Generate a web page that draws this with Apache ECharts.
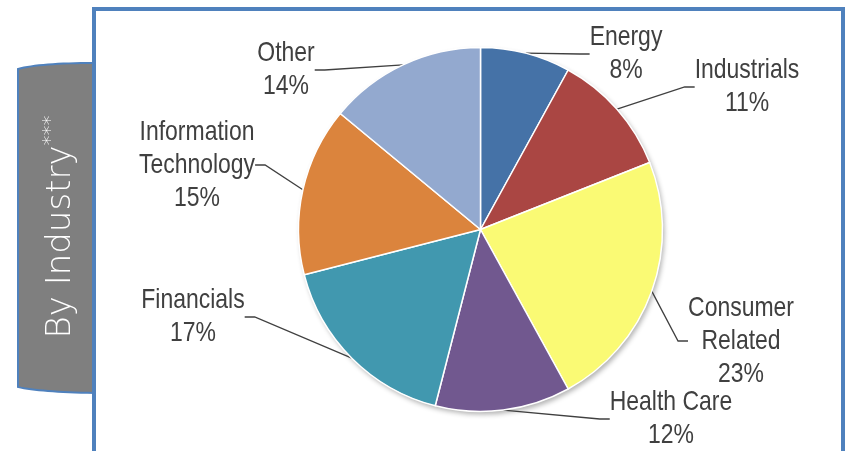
<!DOCTYPE html>
<html>
<head>
<meta charset="utf-8">
<script src="https://cdn.jsdelivr.net/npm/echarts@6/dist/echarts.min.js"></script>
<style>
html,body{margin:0;padding:0;background:#fff;}
#chart{width:846px;height:451px;}
</style>
</head>
<body>
<div id="chart"></div>
<script>
// ---- data ----
const categories = ['Energy', 'Industrials', 'Consumer Related', 'Health Care', 'Financials', 'Information Technology', 'Other'];
const labelNames = ['Energy', 'Industrials', 'Consumer\nRelated', 'Health Care', 'Financials', 'Information\nTechnology', 'Other'];
const values = [8, 11, 23, 12, 17, 15, 14];
const sideTitle = 'By Industry';
const sideTitleMark = '***';

// ---- styling / layout ----
const colors = ['#4572A7', '#AA4643', '#FAFA74', '#71588F', '#4198AF', '#DB843D', '#93A9CF'];
const labelCenters = [[626, 54], [747, 87], [741, 341], [671, 419], [193, 317], [197, 165], [286, 70]];
const pieCenter = [480.5, 229.5];
const pieRadius = 182;
const narrowFactor = 0.82; // emulate a narrow (condensed) sans face

function quad(p0, p1, p2, n) {
  const pts = [];
  for (let i = 0; i <= n; i++) {
    const t = i / n, u = 1 - t;
    pts.push([u * u * p0[0] + 2 * u * t * p1[0] + t * t * p2[0], u * u * p0[1] + 2 * u * t * p1[1] + t * t * p2[1]]);
  }
  return pts;
}
const tabPts = [].concat(
  quad([94, 63], [40, 63], [18, 69], 16),
  quad([18, 387], [40, 392], [94, 393], 16)
);

const chart = echarts.init(document.getElementById('chart'), null, {renderer: 'canvas'});

const option = {
  animation: false,
  backgroundColor: '#ffffff',
  graphic: [
    {
      type: 'polygon',
      z: 1,
      shape: {points: tabPts},
      style: {fill: '#7F7F7F', stroke: '#4F81BD', lineWidth: 2}
    },
    {
      type: 'text',
      z: 3,
      x: 61,
      y: 227,
      rotation: Math.PI / 2,
      style: {
        text: '{a|' + sideTitle + '}{b|' + sideTitleMark + '}',
        align: 'center',
        verticalAlign: 'middle',
        fill: '#ffffff',
        rich: {
          a: {fontFamily: 'DejaVu Sans', fontWeight: 200, fontSize: 34, fill: '#ffffff', lineHeight: 40},
          b: {fontFamily: 'DejaVu Sans', fontWeight: 200, fontSize: 20, fill: '#ffffff', verticalAlign: 'top', lineHeight: 40, padding: [0, 0, 12, 0]}
        }
      }
    },
    {
      type: 'rect',
      z: 2,
      shape: {x: 94, y: 9, width: 749, height: 444},
      style: {fill: 'none', stroke: '#4F81BD', lineWidth: 4}
    }
  ],
  series: [
    {
      type: 'pie',
      silent: true,
      center: pieCenter,
      radius: pieRadius,
      z: 4,
      label: {show: false},
      labelLine: {show: false},
      emphasis: {disabled: true},
      data: [{value: 1, name: '', itemStyle: {color: '#ffffff', shadowBlur: 5, shadowOffsetX: 2, shadowOffsetY: 3, shadowColor: 'rgba(0,0,0,0.3)'}}]
    },
    {
      type: 'pie',
      center: pieCenter,
      radius: pieRadius,
      startAngle: 90,
      clockwise: true,
      z: 5,
      data: categories.map((c, i) => ({name: c, value: values[i], itemStyle: {color: colors[i]}})),
      itemStyle: {borderColor: '#ffffff', borderWidth: 1.5},
      emphasis: {disabled: true},
      label: {
        show: true,
        position: 'outside',
        formatter: (p) => labelNames[p.dataIndex] + '\n' + p.value + '%',
        fontFamily: "'Liberation Sans'",
        fontSize: 28,
        lineHeight: 33,
        color: '#404040',
        align: 'center'
      },
      labelLine: {
        show: true,
        length: 12,
        length2: 10,
        smooth: false,
        lineStyle: {color: '#404040', width: 1.3}
      },
      labelLayout: function (params) {
        const c = labelCenters[params.dataIndex];
        return {x: c[0], y: c[1], align: 'center', verticalAlign: 'middle'};
      }
    }
  ]
};
chart.setOption(option);

// condense the slice labels horizontally and keep their leader lines attached
(function condenseLabels(s) {
  const zr = chart.getZr();
  zr.storage.getDisplayList(true).forEach(function (el) {
    const label = el.getTextContent && el.getTextContent();
    const guide = el.getTextGuideLine && el.getTextGuideLine();
    if (!label || !guide || !guide.shape || !guide.shape.points) return;
    const cx = label.x;
    label.scaleX = s;
    label.markRedraw();
    const pts = guide.shape.points.map(function (p) { return [p[0], p[1]]; });
    const last = pts[pts.length - 1];
    const shift = (1 - s) * (cx - last[0]);
    for (let i = 1; i < pts.length; i++) pts[i][0] += shift;
    guide.setShape({points: pts});
  });
  zr.refresh();
})(narrowFactor);
</script>
</body>
</html>
